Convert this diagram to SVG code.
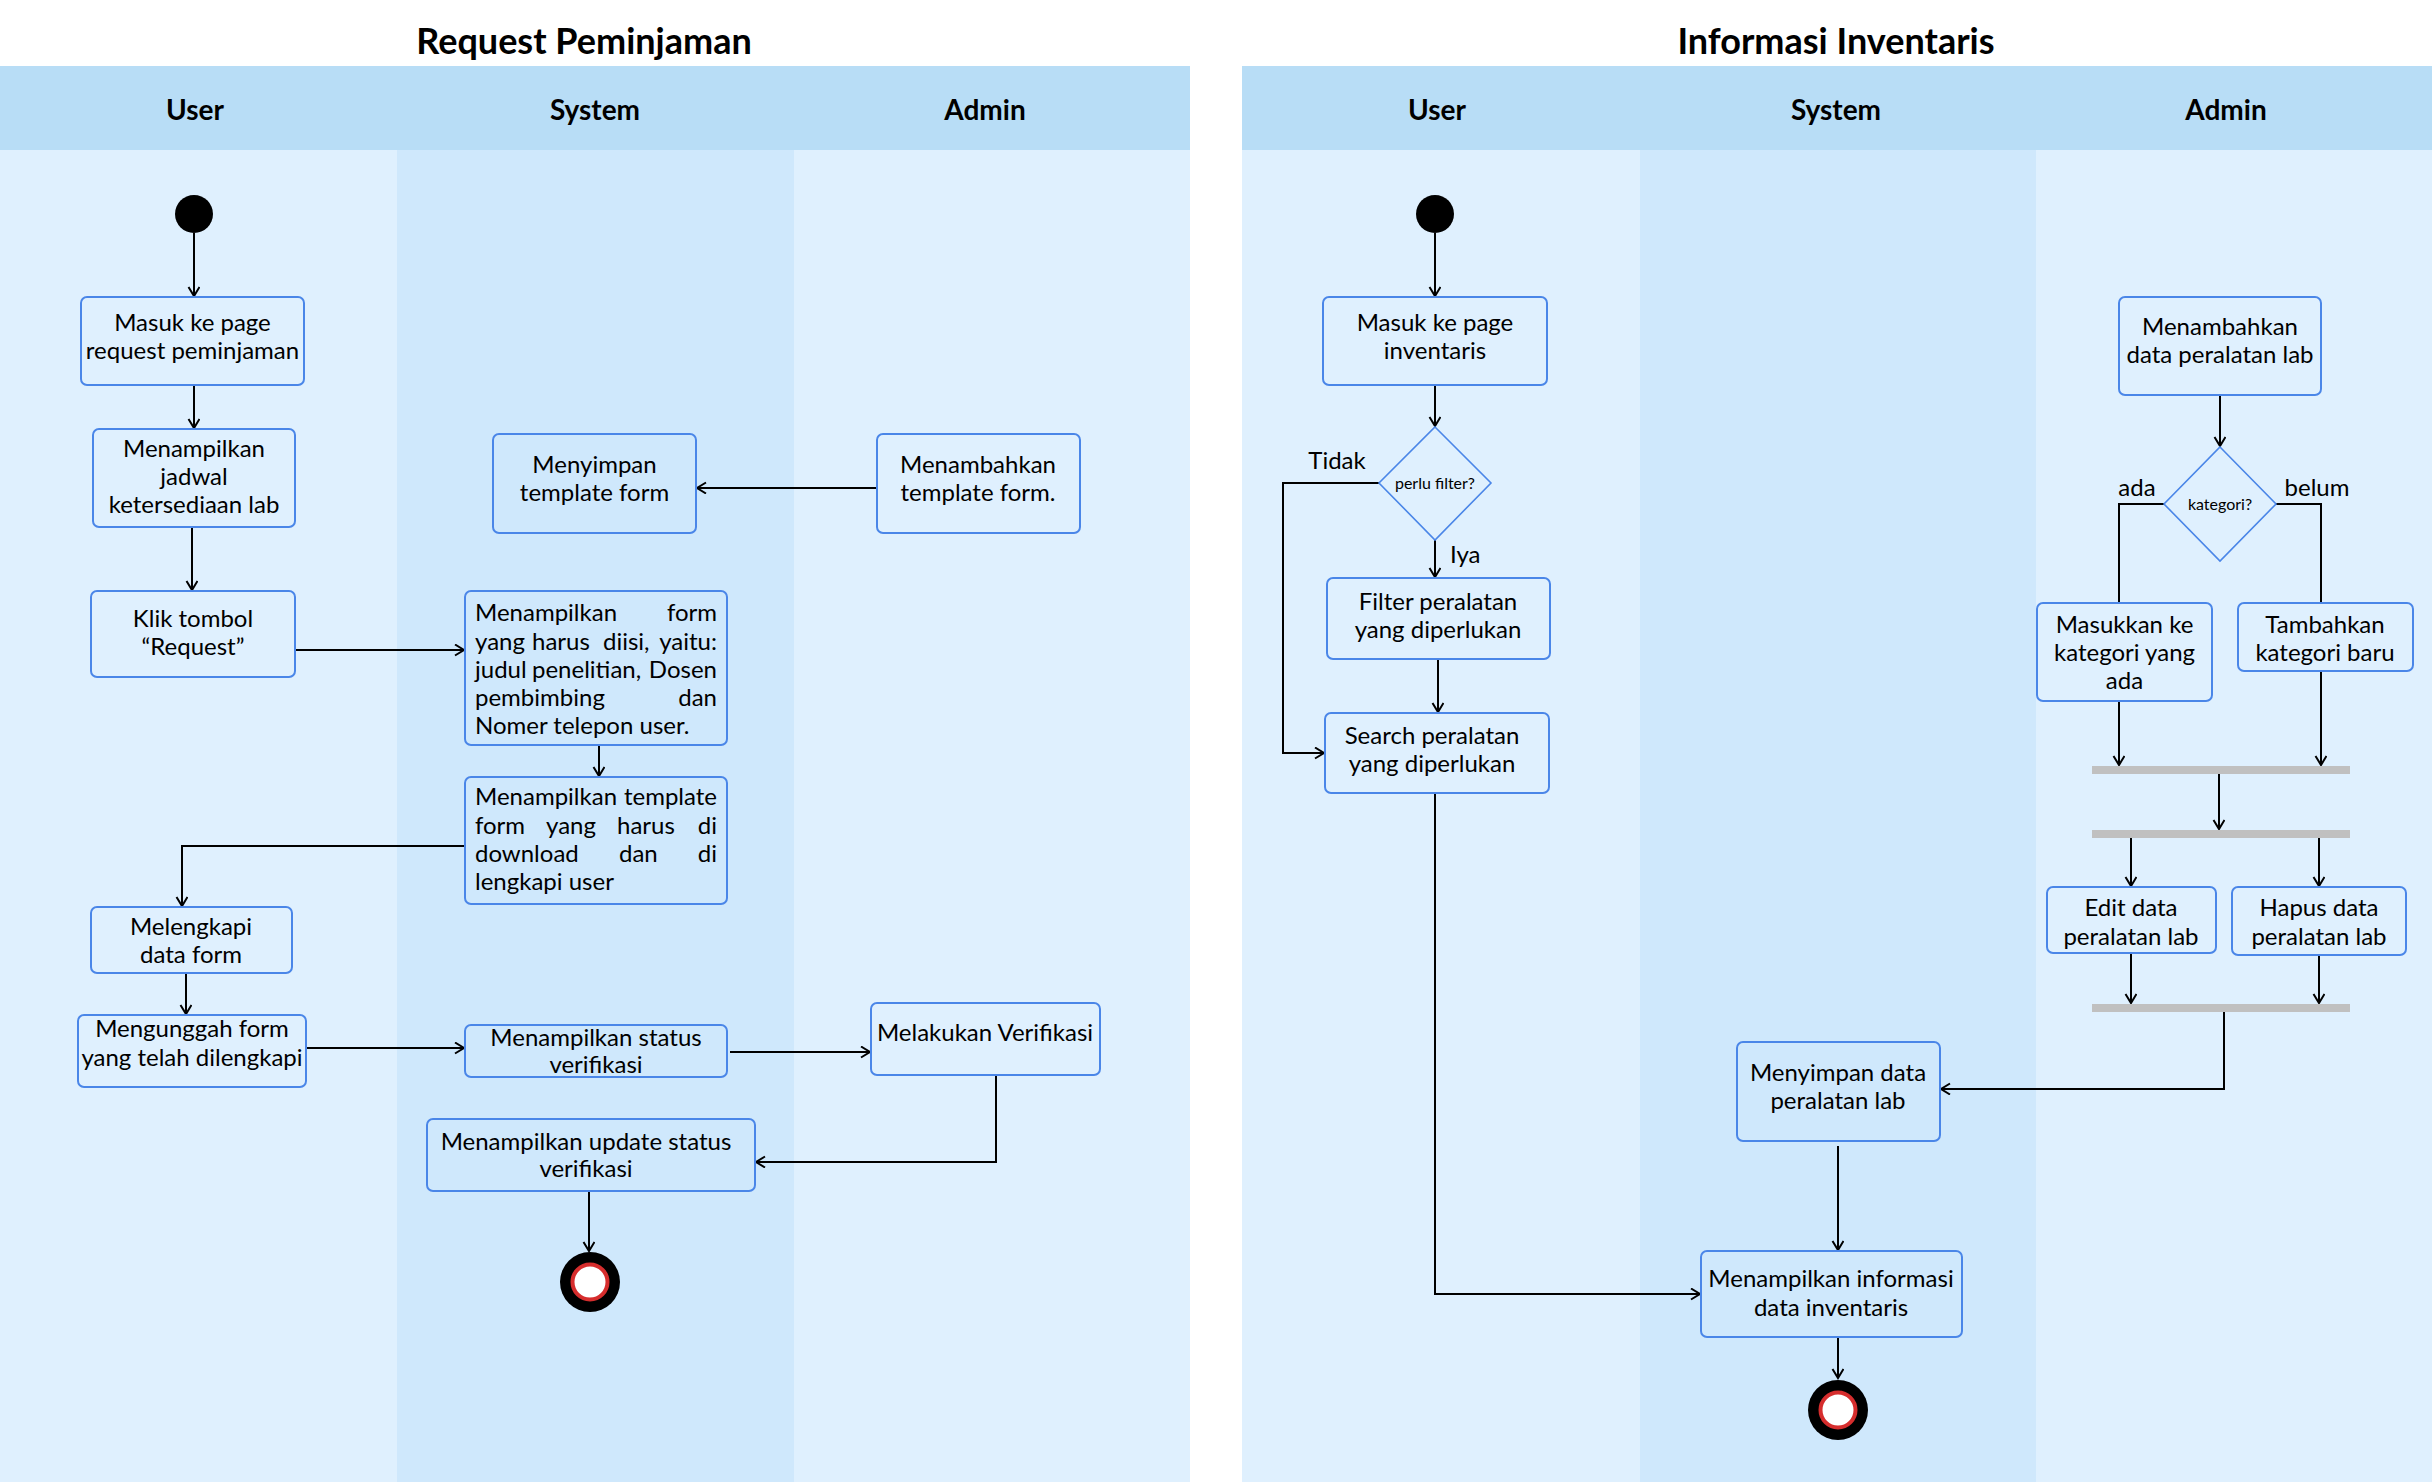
<svg xmlns="http://www.w3.org/2000/svg" width="2432" height="1482" viewBox="0 0 2432 1482">
<defs>
<style>
.title{font-family:Lato,"Open Sans",sans-serif;font-weight:bold;font-size:36px;fill:#000;text-anchor:middle}
.hdr{font-family:Lato,"Open Sans",sans-serif;font-weight:bold;font-size:28px;fill:#000;text-anchor:middle}
.t{font-family:Lato,"Open Sans",sans-serif;font-size:24px;fill:#000;text-anchor:middle}
.l{text-anchor:start}
.r{text-anchor:end}
.s{font-family:Lato,"Open Sans",sans-serif;font-size:16px;fill:#000;text-anchor:middle}
.box{fill:none;stroke:#4a86e8;stroke-width:2}
.dia{fill:none;stroke:#4a86e8;stroke-width:1.6}
.lane-a{fill:#dff0fe}
.lane-b{fill:#cfe8fc}
.head{fill:#b8ddf6}
.bar{fill:#c0c0c0}
.c{fill:none;stroke:#000;stroke-width:2}
.ca{fill:none;stroke:#000;stroke-width:2;marker-end:url(#arr)}
</style>
<marker id="arr" markerUnits="userSpaceOnUse" markerWidth="14" markerHeight="14" refX="10" refY="6" orient="auto">
<path d="M1,0.5 L10,6 L1,11.5" fill="none" stroke="#000" stroke-width="2"/>
</marker>
</defs>
<rect width="2432" height="1482" fill="#fff"/>

<g id="pool-request">
<rect class="lane-a" x="0" y="150" width="397" height="1332"/>
<rect class="lane-b" x="397" y="150" width="397" height="1332"/>
<rect class="lane-a" x="794" y="150" width="396" height="1332"/>
<rect class="head" x="0" y="66" width="1190" height="84"/>
<text class="title" x="584" y="54">Request Peminjaman</text>
<text class="hdr" x="195" y="120">User</text>
<text class="hdr" x="595" y="120">System</text>
<text class="hdr" x="985" y="120">Admin</text>
</g>

<g id="pool-inventaris">
<rect class="lane-a" x="1242" y="150" width="398" height="1332"/>
<rect class="lane-b" x="1640" y="150" width="396" height="1332"/>
<rect class="lane-a" x="2036" y="150" width="396" height="1332"/>
<rect class="head" x="1242" y="66" width="1190" height="84"/>
<text class="title" x="1836" y="54">Informasi Inventaris</text>
<text class="hdr" x="1437" y="120">User</text>
<text class="hdr" x="1836" y="120">System</text>
<text class="hdr" x="2226" y="120">Admin</text>
</g>

<g id="connectors">
<path class="ca" d="M194,233 V296"/>
<path class="ca" d="M194,385 V428"/>
<path class="ca" d="M192,527 V590"/>
<path class="ca" d="M295,650 H464"/>
<path class="ca" d="M599,745 V776"/>
<path class="ca" d="M877,488 H697"/>
<path class="ca" d="M465,846 H182 V906"/>
<path class="ca" d="M186,973 V1014"/>
<path class="ca" d="M306,1048 H464"/>
<path class="ca" d="M730,1052 H870"/>
<path class="ca" d="M996,1075 V1162 H756"/>
<path class="ca" d="M589,1191 V1251"/>

<path class="ca" d="M1435,233 V296"/>
<path class="ca" d="M1435,385 V426"/>
<path class="ca" d="M1380,483 H1283 V753 H1324"/>
<path class="ca" d="M1435,540 V577"/>
<path class="ca" d="M1438,659 V712"/>
<path class="ca" d="M1435,793 V1294 H1700"/>
<path class="ca" d="M2220,395 V446"/>
<path class="c" d="M2164,504 H2119 V603"/>
<path class="c" d="M2276,504 H2321 V603"/>
<path class="ca" d="M2119,701 V765"/>
<path class="ca" d="M2321,671 V765"/>
<path class="ca" d="M2219,774 V829"/>
<path class="ca" d="M2131,838 V886"/>
<path class="ca" d="M2319,838 V886"/>
<path class="ca" d="M2131,953 V1003"/>
<path class="ca" d="M2319,955 V1003"/>
<path class="ca" d="M2224,1012 V1089 H1941"/>
<path class="ca" d="M1838,1146 V1250"/>
<path class="ca" d="M1838,1337 V1378"/>
</g>

<g id="start1"><circle cx="194" cy="214" r="19" fill="#000"/></g>
<g id="n-masuk-request"><rect class="box" x="81" y="297" width="223" height="88" rx="6"/>
<text class="t" x="192.5" y="331">Masuk ke page</text><text class="t" x="192.5" y="359">request peminjaman</text></g>
<g id="n-jadwal"><rect class="box" x="93" y="429" width="202" height="98" rx="6"/>
<text class="t" x="194" y="457">Menampilkan</text><text class="t" x="194" y="485">jadwal</text><text class="t" x="194" y="513">ketersediaan lab</text></g>
<g id="n-klik"><rect class="box" x="91" y="591" width="204" height="86" rx="6"/>
<text class="t" x="193" y="627">Klik tombol</text><text class="t" x="193" y="655">“Request”</text></g>
<g id="n-form"><rect class="box" x="465" y="591" width="262" height="154" rx="6"/>
<text class="t l" x="475" y="621">Menampilkan</text><text class="t r" x="717" y="621">form</text>
<text class="t l" x="475" y="650">yang</text><text class="t l" x="532" y="650">harus</text><text class="t l" x="603" y="650">diisi,</text><text class="t r" x="717" y="650">yaitu:</text>
<text class="t l" x="475" y="678">judul</text><text class="t l" x="532" y="678">penelitian,</text><text class="t r" x="717" y="678">Dosen</text>
<text class="t l" x="475" y="706">pembimbing</text><text class="t r" x="717" y="706">dan</text>
<text class="t l" x="475" y="734">Nomer telepon user.</text></g>
<g id="n-template"><rect class="box" x="465" y="777" width="262" height="127" rx="6"/>
<text class="t l" x="475" y="805">Menampilkan</text><text class="t r" x="717" y="805">template</text>
<text class="t l" x="475" y="834">form</text><text class="t l" x="546" y="834">yang</text><text class="t l" x="617" y="834">harus</text><text class="t r" x="717" y="834">di</text>
<text class="t l" x="475" y="862">download</text><text class="t l" x="619" y="862">dan</text><text class="t r" x="717" y="862">di</text>
<text class="t l" x="475" y="890">lengkapi user</text></g>
<g id="n-menyimpan-template"><rect class="box" x="493" y="434" width="203" height="99" rx="6"/>
<text class="t" x="594.5" y="473">Menyimpan</text><text class="t" x="594.5" y="501">template form</text></g>
<g id="n-menambahkan-template"><rect class="box" x="877" y="434" width="203" height="99" rx="6"/>
<text class="t" x="978" y="473">Menambahkan</text><text class="t" x="978" y="501">template form.</text></g>
<g id="n-melengkapi"><rect class="box" x="91" y="907" width="201" height="66" rx="6"/>
<text class="t" x="191" y="935">Melengkapi</text><text class="t" x="191" y="963">data form</text></g>
<g id="n-mengunggah"><rect class="box" x="78" y="1015" width="228" height="72" rx="6"/>
<text class="t" x="192" y="1037">Mengunggah form</text><text class="t" x="192" y="1066">yang telah dilengkapi</text></g>
<g id="n-status"><rect class="box" x="465" y="1025" width="262" height="52" rx="6"/>
<text class="t" x="596" y="1046">Menampilkan status</text><text class="t" x="596" y="1073">verifikasi</text></g>
<g id="n-verifikasi"><rect class="box" x="871" y="1003" width="229" height="72" rx="6"/>
<text class="t" x="985" y="1041">Melakukan Verifikasi</text></g>
<g id="n-update"><rect class="box" x="427" y="1119" width="328" height="72" rx="6"/>
<text class="t" x="586" y="1150">Menampilkan update status</text><text class="t" x="586" y="1177">verifikasi</text></g>
<g id="end1"><circle cx="590" cy="1282" r="30" fill="#000"/><circle cx="590" cy="1282" r="17.5" fill="#fff" stroke="#d62d2d" stroke-width="4"/></g>

<g id="start2"><circle cx="1435" cy="214" r="19" fill="#000"/></g>
<g id="n-masuk-inventaris"><rect class="box" x="1323" y="297" width="224" height="88" rx="6"/>
<text class="t" x="1435" y="331">Masuk ke page</text><text class="t" x="1435" y="359">inventaris</text></g>
<g id="d-filter"><path class="dia" d="M1435,427 L1491,483 L1435,540 L1379,483 Z"/>
<text class="s" x="1435" y="489">perlu filter?</text></g>
<g id="lbl-tidak"><text class="t" x="1337" y="469">Tidak</text></g>
<g id="lbl-iya"><text class="t l" x="1450" y="563">Iya</text></g>
<g id="n-filter"><rect class="box" x="1327" y="578" width="223" height="81" rx="6"/>
<text class="t" x="1438" y="610">Filter peralatan</text><text class="t" x="1438" y="638">yang diperlukan</text></g>
<g id="n-search"><rect class="box" x="1325" y="713" width="224" height="80" rx="6"/>
<text class="t" x="1432" y="744">Search peralatan</text><text class="t" x="1432" y="772">yang diperlukan</text></g>
<g id="n-menambahkan-data"><rect class="box" x="2119" y="297" width="202" height="98" rx="6"/>
<text class="t" x="2220" y="335">Menambahkan</text><text class="t" x="2220" y="363">data peralatan lab</text></g>
<g id="d-kategori"><path class="dia" d="M2220,447 L2276,504 L2220,561 L2164,504 Z"/>
<text class="s" x="2220" y="510">kategori?</text></g>
<g id="lbl-ada"><text class="t" x="2137" y="496">ada</text></g>
<g id="lbl-belum"><text class="t" x="2317" y="496">belum</text></g>
<g id="n-masukkan"><rect class="box" x="2037" y="603" width="175" height="98" rx="6"/>
<text class="t" x="2124.5" y="633">Masukkan ke</text><text class="t" x="2124.5" y="661">kategori yang</text><text class="t" x="2124.5" y="689">ada</text></g>
<g id="n-tambahkan"><rect class="box" x="2238" y="603" width="175" height="68" rx="6"/>
<text class="t" x="2325" y="633">Tambahkan</text><text class="t" x="2325" y="661">kategori baru</text></g>
<g id="bar-join1"><rect class="bar" x="2092" y="766" width="258" height="8"/></g>
<g id="bar-fork"><rect class="bar" x="2092" y="830" width="258" height="8"/></g>
<g id="n-edit"><rect class="box" x="2047" y="887" width="169" height="66" rx="6"/>
<text class="t" x="2131" y="916">Edit data</text><text class="t" x="2131" y="945">peralatan lab</text></g>
<g id="n-hapus"><rect class="box" x="2232" y="887" width="174" height="68" rx="6"/>
<text class="t" x="2319" y="916">Hapus data</text><text class="t" x="2319" y="945">peralatan lab</text></g>
<g id="bar-join2"><rect class="bar" x="2092" y="1004" width="258" height="8"/></g>
<g id="n-menyimpan-data"><rect class="box" x="1737" y="1042" width="203" height="99" rx="6"/>
<text class="t" x="1838" y="1081">Menyimpan data</text><text class="t" x="1838" y="1109">peralatan lab</text></g>
<g id="n-informasi"><rect class="box" x="1701" y="1251" width="261" height="86" rx="6"/>
<text class="t" x="1831" y="1287">Menampilkan informasi</text><text class="t" x="1831" y="1316">data inventaris</text></g>
<g id="end2"><circle cx="1838" cy="1410" r="30" fill="#000"/><circle cx="1838" cy="1410" r="17.5" fill="#fff" stroke="#d62d2d" stroke-width="4"/></g>
</svg>
